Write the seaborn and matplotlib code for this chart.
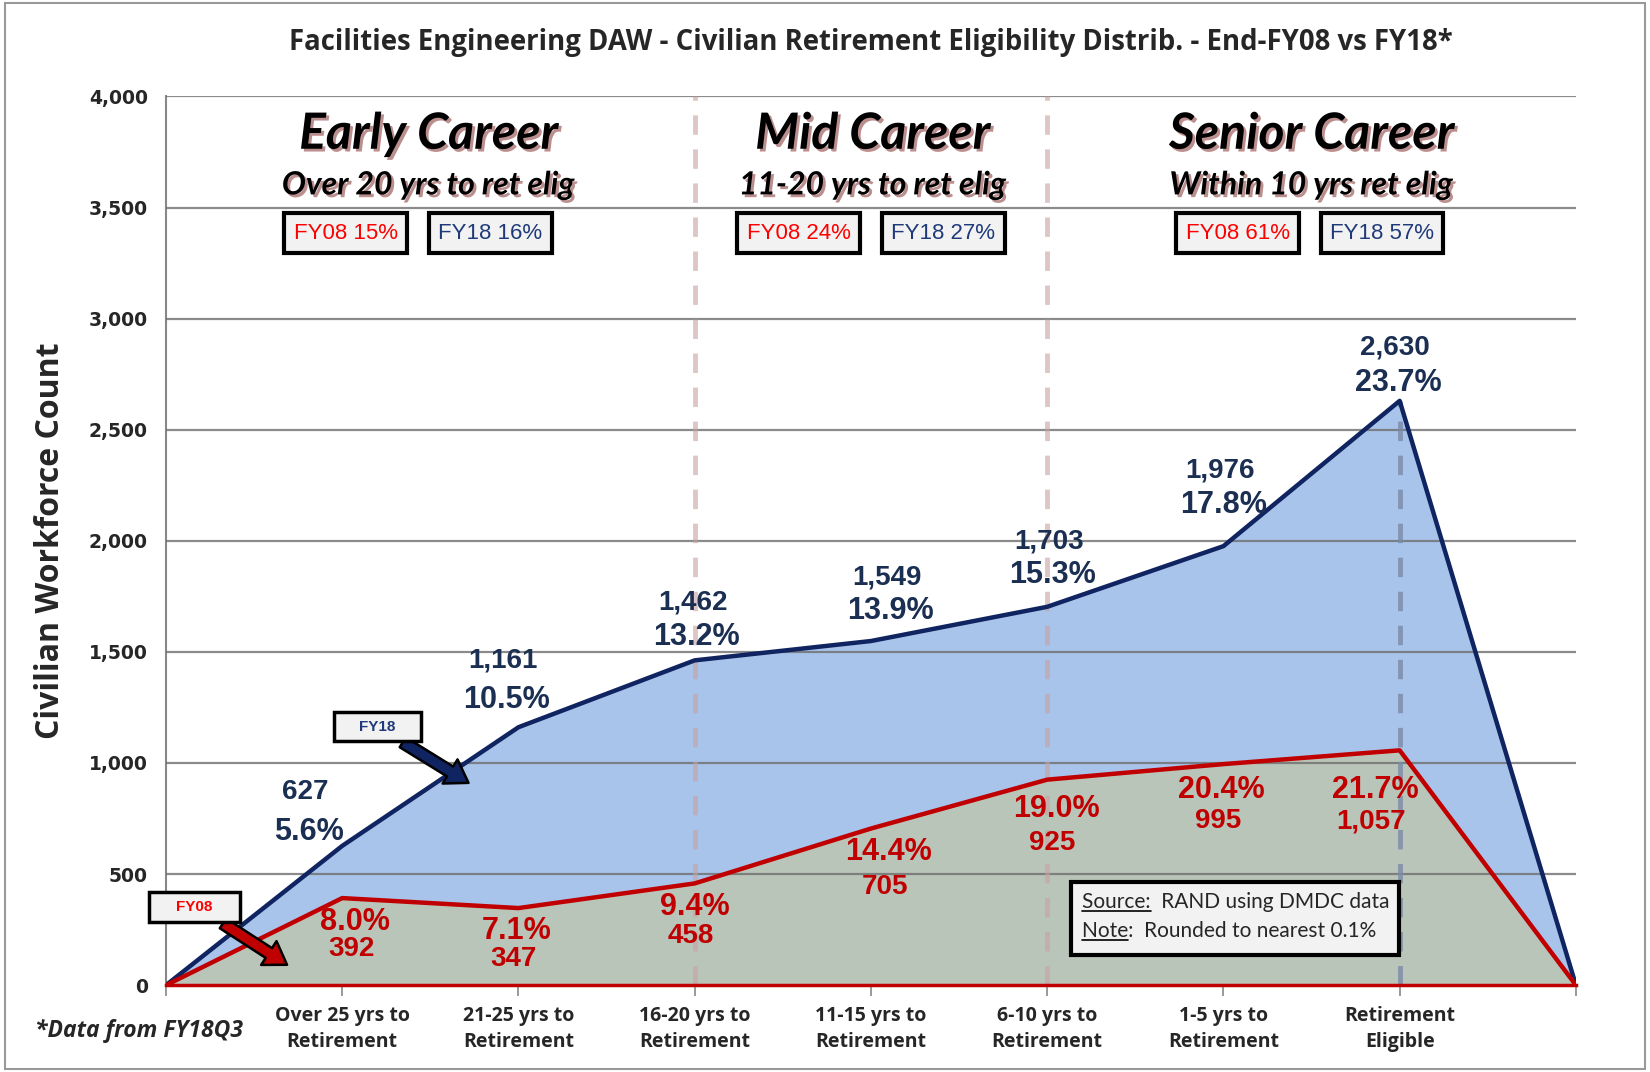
import numpy as np
import pandas as pd
import seaborn as sns
import matplotlib.pyplot as plt
import matplotlib.patheffects as pe
from matplotlib.patches import Rectangle

# Data
positions = [0, 1, 2, 3, 4, 5, 6, 7, 8]
fy18 = [0, 627, 1161, 1462, 1549, 1703, 1976, 2630, 0]
fy08 = [0, 392, 347, 458, 705, 925, 995, 1057, 0]
fy18_pct = ['5.6%', '10.5%', '13.2%', '13.9%', '15.3%', '17.8%', '23.7%']
fy08_pct = ['8.0%', '7.1%', '9.4%', '14.4%', '19.0%', '20.4%', '21.7%']
categories = ['Over 25 yrs to\nRetirement', '21-25 yrs to\nRetirement', '16-20 yrs to\nRetirement',
              '11-15 yrs to\nRetirement', '6-10 yrs to\nRetirement', '1-5 yrs to\nRetirement',
              'Retirement\nEligible']
regions = ['Early Career', 'Mid Career', 'Senior Career']
region_subs = ['Over 20 yrs to ret elig', '11-20 yrs to ret elig', 'Within 10 yrs ret elig']
region_fy08 = ['FY08 15%', 'FY08 24%', 'FY08 61%']
region_fy18 = ['FY18 16%', 'FY18 27%', 'FY18 57%']

df = pd.DataFrame({'pos': positions, 'FY18': fy18, 'FY08': fy08})

NAVY = '#0f2460'
NAVY_TXT = '#1b2f52'
RED = '#c00000'
BLUE_FILL = '#a9c4ea'
GREY_FILL = '#bac5b9'
NARROW = ['Liberation Sans Narrow', 'Open Sans']

sns.set_theme(style='white')
plt.rcParams['font.family'] = ['DejaVu Sans']

fig = plt.figure(figsize=(16.5, 10.72), dpi=100)
ax = fig.add_axes([0.1006, 0.081, 0.8545, 0.829])

# fills
ax.fill_between(df['pos'], df['FY18'], color=BLUE_FILL, zorder=1)
ax.fill_between(df['pos'], df['FY08'], color=GREY_FILL, zorder=2)

ax.set_ylim(0, 4000)
ax.set_xlim(0, 8)
ax.set_yticks(np.arange(0, 4001, 500))
for yv in np.arange(500, 4001, 500):
    ax.axhline(yv, color='#6e6e6e', lw=1.6, alpha=0.8, zorder=3)

# dashed separators
ax.plot([3, 3], [0, 4000], ls=(0, (4, 3)), color='#c9a0a0', lw=3.5, alpha=0.6, zorder=4)
ax.plot([5, 5], [0, 4000], ls=(0, (4, 3)), color='#c9a0a0', lw=3.5, alpha=0.6, zorder=4)
ax.plot([7, 7], [0, fy18[7]], ls=(0, (4, 3)), color='#7a8aa8', lw=3.5, alpha=0.8, zorder=4)

sns.lineplot(data=df, x='pos', y='FY18', color=NAVY, lw=3.2, ax=ax, zorder=6)
sns.lineplot(data=df, x='pos', y='FY08', color=RED, lw=3.2, ax=ax, zorder=6)

# axes style
for s in ['top', 'right']:
    ax.spines[s].set_visible(False)
ax.spines['left'].set_color('#888888')
ax.spines['left'].set_linewidth(1.5)
ax.spines['bottom'].set_color(RED)
ax.spines['bottom'].set_linewidth(2.5)
ax.spines['bottom'].set_zorder(7)
ax.set_xticks(range(0, 9))
ax.set_xticklabels([''] + categories + [''], fontsize=14, fontweight='bold',
                   family=NARROW, linespacing=1.4)
ax.tick_params(axis='x', length=8, width=1.2, color='#888888', pad=7, bottom=True)
ax.tick_params(axis='y', length=0, pad=13)
ax.set_yticklabels([f'{int(v):,}' for v in ax.get_yticks()], fontsize=13.5, fontweight='bold')
ax.set_xlabel('')
ax.set_ylabel('Civilian Workforce Count', fontsize=23, fontweight='bold',
              family=NARROW, labelpad=16)

# data labels FY18
fy18_lab_xy = [(0.79, 871, 691), (1.91, 1463, 1283), (2.99, 1723, 1567), (4.09, 1837, 1685),
               (5.01, 1998, 1846), (5.98, 2315, 2163), (6.97, 2869, 2712)]
for i, (xx, y1, y2) in enumerate(fy18_lab_xy):
    ax.text(xx, y1, f'{fy18[i + 1]:,}', ha='center', va='center', fontsize=20,
            fontweight='bold', color=NAVY_TXT, family='Liberation Sans', zorder=8)
    ax.text(xx + 0.02, y2, fy18_pct[i], ha='center', va='center', fontsize=22,
            fontweight='bold', color=NAVY_TXT, family='Liberation Sans', zorder=8)

fy08_lab_xy = [(1.07, 284, 161), (1.99, 246, 118), (3.0, 350, 222), (4.1, 601, 440),
               (5.05, 795, 639), (5.99, 880, 738), (6.86, 880, 738)]
for i, (xx, y1, y2) in enumerate(fy08_lab_xy):
    ax.text(xx, y1, fy08_pct[i], ha='center', va='center', fontsize=22,
            fontweight='bold', color=RED, family='Liberation Sans', zorder=8)
    ax.text(xx - 0.02, y2, f'{fy08[i + 1]:,}', ha='center', va='center', fontsize=20,
            fontweight='bold', color=RED, family='Liberation Sans', zorder=8)

# region headers
shadow = [pe.withSimplePatchShadow(offset=(2, -2), shadow_rgbFace='#7a2020', alpha=0.5)]
reg_x = [1.49, 4.01, 6.5]
box_x = [1.43, 4.0, 6.49]
for i, rx in enumerate(reg_x):
    ax.text(rx, 3830, regions[i], ha='center', va='center', fontsize=36, fontweight='bold',
            fontstyle='italic', family='Lato', color='black', path_effects=shadow, zorder=8)
    ax.text(rx, 3602, region_subs[i], ha='center', va='center', fontsize=23, fontweight='bold',
            fontstyle='italic', family='Lato', color='black', path_effects=shadow, zorder=8)
    ax.text(box_x[i] - 0.41, 3385, region_fy08[i], ha='center', va='center', fontsize=16,
            color='#ff0000', family='Liberation Sans', zorder=8,
            bbox=dict(boxstyle='square,pad=0.42', fc='#f2f2f2', ec='black', lw=3))
    ax.text(box_x[i] + 0.41, 3385, region_fy18[i], ha='center', va='center', fontsize=16,
            color='#1f3a7a', family='Liberation Sans', zorder=8,
            bbox=dict(boxstyle='square,pad=0.42', fc='#f2f2f2', ec='black', lw=3))

# callout arrows
arrow_kw = dict(arrowstyle='simple,head_width=1.7,head_length=1.3,tail_width=0.7',
                ec='black', lw=1.8)
ax.annotate('', xy=(1.73, 904), xytext=(1.33, 1100),
            arrowprops=dict(fc=NAVY, **arrow_kw), zorder=9)
ax.add_patch(Rectangle((0.955, 1098), 0.49, 133, fc='#f2f2f2', ec='black', lw=2.5,
                       zorder=10, clip_on=False))
ax.text(1.2, 1164, 'FY18', ha='center', va='center', fontsize=11, fontweight='bold',
        color='#1f3a7a', family='Liberation Sans', zorder=11)
ax.annotate('', xy=(0.70, 85), xytext=(0.31, 285),
            arrowprops=dict(fc=RED, **arrow_kw), zorder=9)
ax.add_patch(Rectangle((-0.096, 284), 0.514, 137, fc='#f2f2f2', ec='black', lw=2.5,
                       zorder=10, clip_on=False))
ax.text(0.16, 352, 'FY08', ha='center', va='center', fontsize=11, fontweight='bold',
        color='#ff0000', family='Liberation Sans', zorder=11)

# note box
ax.add_patch(Rectangle((5.134, 137), 1.863, 327, fc='#f2f2f2', ec='black', lw=3, zorder=9))
ax.text(5.2, 375, 'Source:  RAND using DMDC data', ha='left', va='center', fontsize=15,
        family='Lato', zorder=10)
ax.text(5.2, 245, 'Note:  Rounded to nearest 0.1%', ha='left', va='center', fontsize=15,
        family='Lato', zorder=10)
ax.plot([5.2, 5.59], [333, 333], color='black', lw=1.2, zorder=10)
ax.plot([5.2, 5.46], [203, 203], color='black', lw=1.2, zorder=10)

# title and footnote
fig.text(0.528, 0.960, 'Facilities Engineering DAW - Civilian Retirement Eligibility Distrib. - End-FY08 vs FY18*',
         ha='center', va='center', fontsize=19.8, fontweight='bold', family=NARROW)
fig.text(0.084, 0.038, '*Data from FY18Q3', ha='center', va='center', fontsize=16.5,
         fontweight='bold', fontstyle='italic', family=NARROW)

fig.patches.append(Rectangle((0.003, 0.003), 0.994, 0.994, transform=fig.transFigure,
                             fill=False, ec='#999999', lw=1.5))

fig.savefig('out.png', dpi=100)
